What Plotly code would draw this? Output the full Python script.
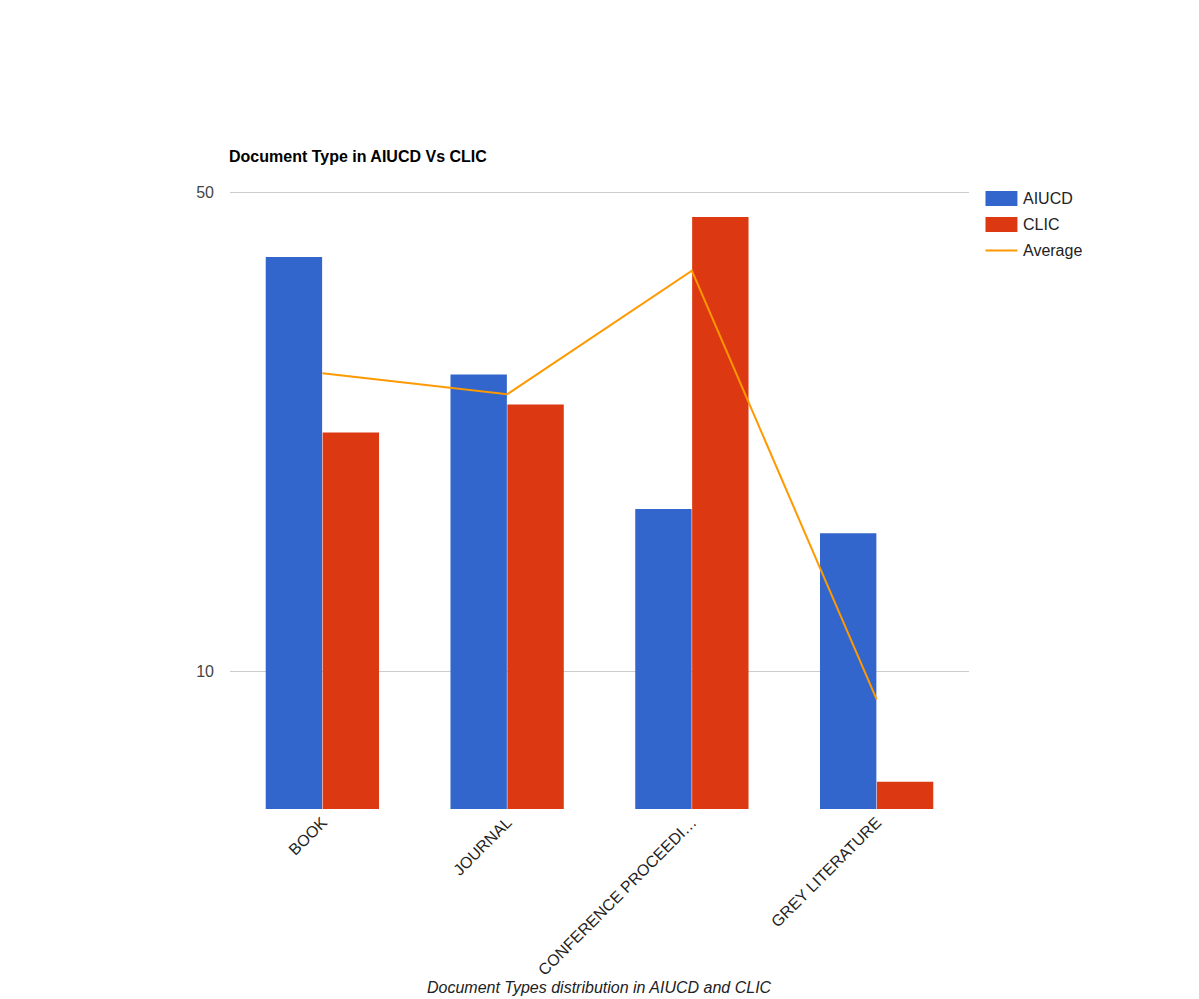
import plotly.graph_objects as go

categories = ["BOOK", "JOURNAL", "CONFERENCE PROCEEDI…", "GREY LITERATURE"]
aiucd = [40.2, 27.1, 17.25, 15.9]
clic = [22.3, 24.5, 46.0, 6.9]
average = [27.2, 25.35, 38.4, 9.1]
y_ticks = [10, 50]

W, H = 1199, 999
L, R, B = 229.5, 969.5, 809
ymin, ymax = 0.7992, 1.7005
T = B - (ymax - ymin) * 685.7

def px(x):
    return (x - L) / (R - L)

def py(y):
    return (B - y) / (B - T)

fig = go.Figure()
fig.add_trace(go.Bar(x=categories, y=aiucd, name="AIUCD", marker_color="#3366cc",
                     marker_line_width=0, showlegend=False))
fig.add_trace(go.Bar(x=categories, y=clic, name="CLIC", marker_color="#dc3912",
                     marker_line_width=0, showlegend=False))
fig.add_trace(go.Scatter(x=categories, y=average, name="Average", mode="lines",
                         line=dict(color="#ff9900", width=2), showlegend=False))

font = "Arial, Liberation Sans, sans-serif"

shapes = [
    dict(type="rect", xref="paper", yref="paper", x0=px(986), x1=px(1018), y0=py(206), y1=py(191),
         fillcolor="#3366cc", line_width=0),
    dict(type="rect", xref="paper", yref="paper", x0=px(986), x1=px(1018), y0=py(232), y1=py(217),
         fillcolor="#dc3912", line_width=0),
    dict(type="line", xref="paper", yref="paper", x0=px(986), x1=px(1018), y0=py(250.5), y1=py(250.5),
         line=dict(color="#ff9900", width=2)),
]
ann = [
    dict(text="Document Type in AIUCD Vs CLIC", xref="paper", yref="paper", x=px(226), y=py(156),
         xanchor="left", yanchor="middle", showarrow=False,
         font=dict(family=font, size=16, color="#000000", weight="bold")),
    dict(text="<i>Document Types distribution in AIUCD and CLIC</i>", xref="paper", yref="paper",
         x=px(600), y=py(988), xanchor="center", yanchor="middle", showarrow=False,
         font=dict(family=font, size=16, color="#222222")),
]
for label, yy in [("AIUCD", 198.5), ("CLIC", 224.5), ("Average", 250.5)]:
    ann.append(dict(text=label, xref="paper", yref="paper", x=px(1022), y=py(yy),
                    xanchor="left", yanchor="middle", showarrow=False,
                    font=dict(family=font, size=16, color="#222222")))

fig.update_layout(
    width=W, height=H,
    margin=dict(l=L, r=W - R, t=T, b=H - B, autoexpand=False),
    paper_bgcolor="white", plot_bgcolor="white",
    barmode="group", bargap=0.384, bargroupgap=0.009,
    font=dict(family=font, size=16, color="#222222"),
    shapes=shapes, annotations=ann,
    showlegend=False,
)
fig.update_xaxes(tickangle=-45, showgrid=False, showline=False, zeroline=False,
                 tickfont=dict(family=font, size=16, color="#222222"), ticks="")
fig.update_yaxes(type="log", range=[ymin, ymax], tickvals=y_ticks, ticktext=[str(v) for v in y_ticks],
                 showgrid=True, gridcolor="#cccccc", gridwidth=1, zeroline=False, showline=False,
                 tickfont=dict(family=font, size=16, color="#444444"), ticklabelstandoff=15)

fig.write_html("out.html")
